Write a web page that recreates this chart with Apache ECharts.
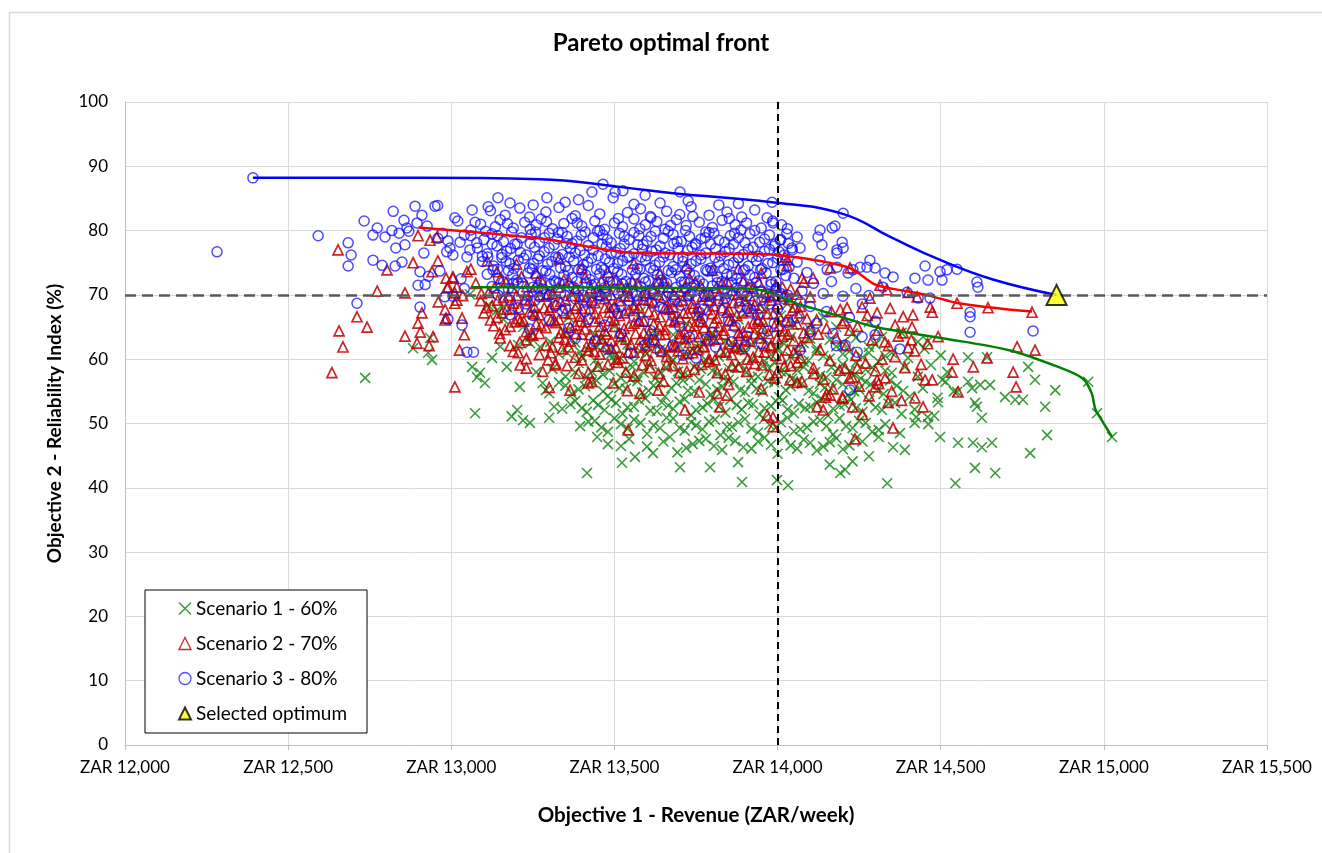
<!DOCTYPE html>
<html><head><meta charset="utf-8">
<script src="https://cdn.jsdelivr.net/npm/echarts@6/dist/echarts.min.js"></script>
<style>html,body{margin:0;padding:0;background:#fff}#c{width:1322px;height:853px}</style>
</head><body><div id="c"></div>
<script>
const chartTitle = 'Pareto optimal front';
const xAxisName = 'Objective 1 - Revenue (ZAR/week)';
const yAxisName = 'Objective 2 - Reliability Index (%)';
const seriesNames = ['Scenario 1 - 60%', 'Scenario 2 - 70%', 'Scenario 3 - 80%', 'Selected optimum'];
const xMin = 12000, xMax = 15500, xStep = 500;
const yMin = 0, yMax = 100, yStep = 10;
const refRevenue = 14000, refReliability = 70;

// Scenario 3 - 80% (blue circles)
const scenario3 = [
[12392,88.2],[12282,76.7],[12592,79.2],[12684,78.1],[12693,76.2],[12684,74.5],[12733,81.5],[12711,68.7],[12760,79.3],[12773,80.4],[12797,79.0],[12822,83.0],[12818,80.0],[12760,75.4],[12788,74.6],[12828,74.5],[12849,75.1],[12830,77.3],[12858,77.8],[12855,81.6],[12864,80.4],[12889,83.8],[12910,82.4],[12895,81.2],[12950,83.8],[12958,83.9],[12904,73.6],[12916,76.5],[12898,71.5],[12920,71.6],[12904,68.1],[12959,78.8],[12986,76.7],[12996,77.3],[13011,82.0],[13020,81.5],[12980,69.7],[13005,69.8],[13033,65.3],[13048,61.1],[13064,83.2],[13073,81.3],[13027,78.2],[13057,77.0],[13048,75.9],[13005,76.2],[12870,79.9],[12840,79.6],[12926,80.7],[12973,79.6],[12990,78.4],[13040,79.3],[13060,80.1],[12930,72.9],[12965,73.7],[13030,72.5],[13040,71.0],[12990,66.2],
[13113,83.7],[13143,85.1],[13180,84.3],[13251,84.0],[13293,85.1],[13349,84.4],[13431,86.0],[13465,87.2],[13496,85.1],[13502,86.0],[13526,86.2],[13594,85.5],[13701,86.0],[13726,84.6],[13560,84.1],[13640,84.3],[13820,84.0],[13983,84.4],[13390,84.8],[13880,84.2],
[13120,83.1],[13165,82.4],[13210,83.5],[13240,82.1],[13290,82.9],[13330,83.6],[13380,82.3],[13420,83.9],[13455,82.6],[13540,82.8],[13580,83.4],[13610,82.2],[13660,83.0],[13700,82.5],[13735,83.7],[13790,82.4],[13845,82.9],[13890,82.1],[13930,83.2],
[13090,81.0],[13135,80.6],[13150,81.7],[13190,80.4],[13225,81.3],[13260,80.9],[13275,81.8],[13310,80.3],[13345,81.1],[13370,81.9],[13400,80.7],[13440,81.5],[13470,80.2],[13500,81.2],[13525,80.6],[13560,81.8],[13595,80.9],[13630,81.4],[13655,80.2],[13690,81.7],[13720,80.8],[13760,81.3],[13800,80.5],[13830,81.6],[13870,80.9],[13905,81.2],[13950,80.4],[13985,81.5],[14030,80.3],
[13060,79.2],[13100,78.6],[13125,79.5],[13160,78.3],[13185,79.8],[13215,78.9],[13245,79.4],[13270,78.2],[13300,79.6],[13325,78.7],[13355,79.1],[13385,78.4],[13410,79.8],[13435,78.9],[13465,79.3],[13490,78.1],[13515,79.6],[13545,78.6],[13575,79.2],[13600,78.4],[13625,79.9],[13650,78.8],[13680,79.4],[13705,78.3],[13730,79.1],[13765,78.7],[13790,79.7],[13820,78.5],[13855,79.2],[13880,78.9],[13915,79.5],[13945,78.2],[13975,79.3],[14010,78.6],[14060,79.0],
[13080,77.3],[13110,76.4],[13140,77.6],[13170,76.8],[13195,77.9],[13230,76.2],[13255,77.4],[13285,76.7],[13315,77.8],[13340,76.3],[13365,77.2],[13395,76.9],[13420,77.7],[13450,76.1],[13475,77.5],[13505,76.6],[13530,77.9],[13560,76.4],[13585,77.1],[13615,76.8],[13640,77.6],[13670,76.2],[13695,77.3],[13725,76.9],[13750,77.8],[13780,76.5],[13810,77.2],[13840,76.7],[13865,77.9],[13895,76.3],[13925,77.4],[13960,76.8],[13990,77.6],[14020,76.2],[14045,77.0],
[13095,75.2],[13130,74.5],[13155,75.8],[13180,74.9],[13205,75.4],[13240,74.2],[13265,75.6],[13295,74.8],[13320,75.9],[13350,74.4],[13375,75.3],[13405,74.7],[13430,75.7],[13460,74.3],[13485,75.1],[13510,74.9],[13540,75.8],[13570,74.1],[13595,75.4],[13625,74.6],[13650,75.9],[13680,74.4],[13710,75.2],[13735,74.8],[13765,75.6],[13795,74.2],[13820,75.1],[13850,74.7],[13880,75.8],[13910,74.5],[13935,75.3],[13970,74.9],[14000,75.7],[14035,74.3],
[13110,73.2],[13145,72.6],[13175,73.8],[13200,72.3],[13235,73.4],[13260,72.9],[13290,73.7],[13315,72.2],[13345,73.1],[13370,72.7],[13400,73.9],[13425,72.4],[13455,73.3],[13480,72.8],[13510,73.6],[13535,72.1],[13565,73.2],[13590,72.6],[13620,73.8],[13645,72.3],[13675,73.5],[13700,72.9],[13730,73.4],[13760,72.2],[13785,73.7],[13815,72.8],[13845,73.2],[13875,72.5],[13900,73.9],[13930,72.7],[13965,73.4],[13995,72.1],[14025,73.0],
[13125,71.3],[13160,70.6],[13190,71.8],[13220,70.4],[13250,71.2],[13280,70.9],[13305,71.6],[13335,70.3],[13360,71.4],[13390,70.7],[13415,71.9],[13445,70.5],[13470,71.1],[13500,70.8],[13525,71.7],[13555,70.2],[13580,71.3],[13610,70.6],[13635,71.8],[13665,70.4],[13690,71.2],[13720,70.9],[13745,71.5],[13775,70.1],[13800,71.4],[13830,70.7],[13860,71.9],[13890,70.3],[13920,71.1],[13950,70.6],[13980,71.6],[14010,70.2],
[13180,69.2],[13230,68.6],[13270,69.7],[13320,68.3],[13380,69.4],[13430,68.8],[13475,69.6],[13520,68.2],[13570,69.1],[13615,68.7],[13660,69.8],[13705,68.4],[13750,69.3],[13795,68.9],[13840,69.5],[13885,68.1],[13930,69.0],[13975,68.6],[14020,69.4],
[13250,66.8],[13340,67.5],[13420,66.2],[13510,67.1],[13590,65.9],[13680,66.7],[13760,67.3],[13850,66.0],[13920,67.2],[13990,65.6],
[13068,61.1],[13440,62.8],[13593,62.2],[13620,63.0],[13680,62.2],[13710,60.6],[13750,60.2],[13810,61.9],[13860,62.7],[13900,61.9],[14100,64.3],[14180,62.1],
[13300,66.1],[13360,64.8],[13410,67.4],[13470,65.3],[13520,63.9],[13560,66.6],[13610,64.5],[13650,67.9],[13700,65.1],[13730,63.4],[13770,66.3],[13800,64.2],[13830,67.6],[13870,65.0],[13905,63.6],[13940,66.9],[13970,64.4],[14000,67.8],[14030,65.7],[13480,61.5],[13550,60.9],[13640,61.3],[13780,63.1],[13950,62.4],[13380,63.2],[13240,64.7],[13180,66.9],[14060,66.4],[14120,65.6],[14170,64.0],
[14201,82.7],[14130,80.1],[14167,80.4],[14176,80.7],[14124,79.0],[14136,77.8],[14198,78.2],[14201,77.3],[14182,77.0],[14069,77.3],[14044,77.3],[14008,78.5],[13986,81.2],[14182,76.5],[14283,75.4],[14253,74.3],[14299,74.2],[14329,73.4],[14354,72.8],[14323,71.2],[14274,74.3],[14231,73.9],[14216,73.4],[14182,74.3],[14130,75.4],[14152,73.9],[14452,74.5],[14498,73.6],[14519,73.9],[14550,74.0],[14421,72.6],[14461,72.3],[14504,72.3],[14611,72.0],[14614,71.2],[14590,67.3],[14590,66.6],[14590,64.2],[14783,64.4],[14397,70.4],[14431,69.5],[14467,69.5],
[14060,75.1],[14090,73.5],[14110,71.8],[14075,70.6],[14140,70.2],[14165,72.1],[14200,69.8],[14240,71.0],[14260,68.6],[14100,68.2],[14150,67.4],[14220,66.5],[14280,69.9],[14300,65.9],[14050,72.6],[14070,68.9],
[14375,61.6],[14207,62.2],[14244,61.1],[14222,55.2],[14299,63.8],[14259,63.5],[14069,61.4],
[13105,79.9],[13172,81.1],[13242,80.2],[13292,81.4],[13328,79.7],[13386,81.2],[13455,80.0],[13512,81.9],[13578,80.3],[13612,82.0],[13672,80.8],[13740,82.2],[13780,79.8],[13852,81.9],[13888,80.1],[13968,82.0],[14012,80.9],
[13078,78.1],[13142,79.2],[13202,77.9],[13258,79.8],[13286,78.9],[13340,79.7],[13370,78.0],[13398,79.3],[13448,79.9],[13478,78.6],[13530,79.1],[13560,79.7],[13588,77.8],[13612,79.1],[13665,79.9],[13692,78.3],[13718,80.0],[13748,78.0],[13778,78.9],[13805,79.6],[13838,78.2],[13868,79.6],[13900,78.1],[13930,80.0],[13960,78.7],[13992,77.9],[14028,79.5],
[13095,76.0],[13125,77.9],[13155,76.3],[13182,77.2],[13212,76.6],[13242,78.0],[13270,76.1],[13300,77.3],[13328,75.8],[13352,78.0],[13380,76.5],[13408,76.2],[13435,77.0],[13462,77.9],[13490,76.4],[13518,77.2],[13545,76.0],[13572,77.8],[13600,76.1],[13628,77.0],[13655,76.5],[13682,78.0],[13710,75.9],[13738,77.4],[13765,76.2],[13795,77.9],[13825,76.1],[13852,77.2],[13880,75.8],[13910,77.1],[13942,76.0],[13975,77.1],[14005,76.7],[14033,78.0],
[13112,75.9],[13142,74.0],[13168,75.2],[13192,74.1],[13222,75.7],[13252,74.9],[13280,73.8],[13308,75.2],[13335,74.2],[13362,75.9],[13390,73.9],[13418,75.1],[13445,74.0],[13472,75.6],[13498,74.1],[13525,75.3],[13555,73.9],[13582,75.9],[13610,74.2],[13638,75.1],[13665,73.8],[13695,75.7],[13722,74.0],[13750,75.3],[13780,73.9],[13808,75.8],[13835,74.1],[13865,75.0],[13895,73.8],[13922,75.9],[13952,74.1],[13985,75.0],[14018,74.0],
[13128,73.9],[13160,72.0],[13188,73.1],[13218,71.8],[13248,74.0],[13275,72.1],[13302,73.2],[13330,71.9],[13358,73.8],[13385,72.1],[13412,73.1],[13440,71.7],[13468,73.9],[13495,72.0],[13522,73.2],[13550,71.8],[13578,74.0],[13605,72.2],[13632,73.1],[13660,71.8],[13688,73.9],[13715,72.0],[13745,73.0],[13772,71.7],[13800,73.8],[13830,72.1],[13860,73.0],[13888,71.9],[13915,73.1],[13948,73.9],[13980,72.0],[14010,73.9],
[13142,70.0],[13175,71.0],[13205,71.9],[13235,69.8],[13265,71.1],[13292,70.1],[13320,72.0],[13348,69.9],[13375,71.2],[13402,70.0],[13430,71.5],[13458,69.8],[13485,72.0],[13512,70.2],[13540,71.0],[13568,69.9],[13595,72.0],[13622,70.1],[13650,71.2],[13678,69.8],[13705,72.0],[13732,70.1],[13760,71.0],[13788,69.9],[13815,71.9],[13845,70.2],[13875,71.1],[13905,69.8],[13935,71.9],[13965,70.1],[13995,71.0],[14030,70.0],
[13205,68.0],[13255,69.1],[13300,69.9],[13350,67.9],[13405,69.2],[13455,70.0],[13500,67.8],[13545,69.1],[13592,69.9],[13640,68.1],[13685,69.2],[13728,69.9],[13772,67.8],[13818,69.1],[13862,70.0],[13908,67.9],[13952,69.2],[13998,69.9]
];

// Scenario 2 - 70% (red triangles)
const scenario2 = [
[12653,77.0],[12803,73.9],[12773,70.6],[12858,70.3],[12883,75.0],[12941,73.6],[12959,75.3],[12898,79.2],[12935,78.5],[12956,79.0],[12711,66.6],[12742,65.0],[12656,64.4],[12668,61.9],[12858,63.6],[12895,62.5],[12898,65.6],[12910,67.2],[12944,63.5],[12981,67.7],[12981,66.1],[13005,72.8],[13011,70.3],[13017,69.2],[13011,68.7],[12990,71.2],[12634,57.9],[13011,55.7],[12984,72.6],[13005,72.6],[12987,71.1],[13017,71.2],[12984,66.4],[12932,62.1],[13033,66.4],[13048,73.6],[12905,64.2],[12960,68.9],[13035,69.9],[13040,63.8],[13025,61.4],
[13060,74.0],[13110,75.3],[13140,73.6],[13200,74.8],[13260,73.4],[13330,75.6],[13400,74.2],[13480,73.5],[13560,74.9],[13640,73.3],[13720,74.5],[13800,73.8],[13880,74.1],[13950,73.4],[14030,75.5],
[13075,71.8],[13115,70.4],[13150,72.5],[13185,71.1],[13215,72.8],[13250,70.6],[13280,71.9],[13310,70.2],[13345,72.3],[13380,71.0],[13410,72.7],[13445,70.5],[13475,71.6],[13505,72.4],[13540,70.8],[13570,71.7],[13600,70.3],[13635,72.1],[13665,71.2],[13700,70.6],[13730,72.6],[13765,71.4],[13795,70.1],[13830,71.8],[13860,70.7],[13895,72.2],[13925,71.0],[13960,70.4],[13995,71.5],[14040,70.9],[14080,72.0],
[13090,69.1],[13125,68.3],[13160,69.6],[13190,68.7],[13225,69.3],[13255,68.1],[13290,69.8],[13320,68.6],[13350,69.2],[13385,68.4],[13415,69.7],[13440,68.8],[13470,69.4],[13500,68.2],[13530,69.9],[13560,68.5],[13590,69.3],[13620,68.9],[13650,69.6],[13680,68.1],[13710,69.2],[13740,68.7],[13770,69.8],[13805,68.3],[13835,69.4],[13865,68.8],[13900,69.1],[13930,68.4],[13965,69.7],[14000,68.6],[14035,69.3],[14070,68.2],
[13100,67.2],[13140,66.5],[13170,67.8],[13205,66.3],[13240,67.4],[13270,66.9],[13300,67.7],[13330,66.2],[13365,67.1],[13395,66.7],[13425,67.9],[13455,66.4],[13485,67.3],[13515,66.8],[13545,67.6],[13575,66.1],[13605,67.4],[13640,66.6],[13670,67.8],[13700,66.3],[13725,67.2],[13755,66.9],[13785,67.7],[13815,66.4],[13845,67.3],[13875,66.8],[13910,67.5],[13940,66.2],[13970,67.1],[14005,66.7],[14045,67.6],[14090,66.3],
[13130,65.2],[13165,64.6],[13195,65.8],[13230,64.3],[13260,65.5],[13290,64.9],[13320,65.7],[13350,64.2],[13380,65.3],[13410,64.7],[13440,65.9],[13470,64.4],[13500,65.1],[13530,64.8],[13560,65.6],[13590,64.1],[13620,65.4],[13655,64.6],[13685,65.8],[13715,64.3],[13745,65.2],[13775,64.9],[13805,65.7],[13835,64.5],[13865,65.3],[13895,64.2],[13925,65.6],[13955,64.8],[13990,65.1],[14020,64.4],[14060,65.5],[14100,64.7],
[13150,63.3],[13210,62.6],[13250,63.7],[13290,62.2],[13330,63.4],[13365,62.8],[13400,63.9],[13430,62.4],[13460,63.2],[13490,62.9],[13520,63.6],[13550,62.3],[13580,63.1],[13610,62.7],[13640,63.8],[13670,62.1],[13700,63.4],[13730,62.6],[13760,63.5],[13790,62.9],[13820,63.2],[13850,62.4],[13885,63.7],[13915,62.8],[13945,63.3],[13980,62.2],[14015,63.6],[14050,62.9],[14090,63.4],
[13190,61.2],[13270,60.7],[13340,61.6],[13380,60.3],[13420,61.4],[13455,60.8],[13490,61.7],[13525,60.2],[13560,61.1],[13595,60.6],[13630,61.8],[13660,60.4],[13695,61.3],[13725,60.9],[13755,61.5],[13790,60.1],[13825,61.2],[13860,60.7],[13890,61.6],[13925,60.3],[13960,61.1],[13995,60.6],[14030,61.4],[14070,60.2],
[13230,58.6],[13320,59.3],[13390,57.8],[13450,58.9],[13510,59.5],[13560,57.4],[13610,58.7],[13660,59.2],[13700,57.9],[13745,58.4],[13790,59.6],[13840,57.7],[13880,58.8],[13930,59.3],[13975,57.6],[14020,58.9],[14060,59.5],[14110,57.8],
[13300,55.6],[13420,56.3],[13540,55.1],[13650,56.6],[13760,54.9],[13850,56.1],[13950,55.4],[14060,56.4],[14150,54.6],
[13542,49.0],[13716,52.1],[13968,51.3],[13986,51.0],[13986,49.5],[13364,55.2],[13297,59.9],[13318,59.1],[13205,61.0],[13211,59.1],[13431,56.5],[13496,56.3],[13578,54.7],[13634,55.2],[13815,54.7],[13845,54.4],[13824,52.6],
[14550,68.7],[14645,68.0],[14780,67.3],[14734,61.9],[14789,61.4],[14474,67.3],[14468,68.1],[14492,63.5],[14415,66.9],[14385,66.6],[14360,65.3],[14428,69.7],[14400,70.4],[14314,71.5],[14335,70.8],[14222,74.2],[14259,68.1],[14283,69.5],[14192,67.7],[14213,68.0],[14109,72.6],[14161,74.2],[14075,72.6],[14023,75.9],[14029,74.6],[14100,69.7],[14198,65.6],[14222,64.5],[14308,64.5],[14329,62.7],[14412,65.0],[14385,64.1],
[14354,49.3],[14237,47.6],[14446,52.6],[14421,54.0],[14339,53.3],[14535,58.0],[14553,54.9],[14600,58.8],[14642,60.2],[14722,58.0],[14731,55.7],[14538,60.0],[14474,56.8],[14452,56.8],
[14120,66.1],[14150,64.8],[14180,63.3],[14210,62.1],[14240,60.6],[14270,59.4],[14300,58.2],[14330,57.1],[14360,60.4],[14390,58.7],[14420,61.3],[14440,59.2],[14460,62.4],[14130,61.5],[14160,59.8],[14190,58.3],[14220,57.0],[14250,55.8],[14280,54.3],[14310,56.2],[14340,62.1],[14370,63.6],[14400,61.8],[14430,57.6],[14110,58.6],[14140,56.9],[14170,55.4],[14200,53.9],[14230,52.6],[14260,51.4],[14290,63.0],[14320,60.0],[14350,55.0],[14380,53.6],[14410,63.0],[14125,63.9],[14165,67.4],[14205,66.0],[14245,65.1],[14275,66.8],[14305,67.2],[14345,67.9],
[14146,54.1],[14161,54.4],[14198,54.1],[14121,52.6],[14140,52.1],[14305,56.8],[14299,55.7],[13992,57.1],[14038,56.8],[14075,56.5],[14207,58.6],[14244,58.6],[14228,57.2],
[13092,70.2],[13132,71.1],[13168,72.0],[13200,69.9],[13232,71.3],[13265,72.1],[13295,70.1],[13328,71.2],[13362,72.0],[13395,69.8],[13428,71.1],[13460,72.2],[13490,70.0],[13522,71.3],[13555,72.1],[13585,69.9],[13618,71.0],[13650,72.2],[13682,70.1],[13715,71.2],[13748,72.0],[13780,69.8],[13812,71.1],[13845,72.1],[13878,70.1],[13910,71.3],[13942,72.0],[13978,69.9],[14015,71.2],[14060,70.1],
[13108,68.0],[13142,69.2],[13175,69.9],[13208,67.8],[13240,69.1],[13272,70.0],[13305,68.1],[13335,69.0],[13368,69.9],[13400,67.9],[13430,69.2],[13455,70.0],[13485,68.1],[13515,69.1],[13545,69.8],[13575,68.0],[13605,69.2],[13635,70.0],[13665,67.9],[13695,69.0],[13725,69.9],[13755,68.1],[13788,69.2],[13820,70.0],[13850,67.8],[13882,69.1],[13915,69.9],[13948,68.0],[13982,69.2],[14018,69.8],[14052,68.1],
[13120,66.1],[13155,67.2],[13188,67.9],[13222,65.9],[13255,67.1],[13285,68.0],[13315,66.0],[13348,67.2],[13380,67.9],[13410,65.8],[13440,67.1],[13470,68.0],[13500,66.1],[13530,67.2],[13560,67.9],[13590,65.9],[13622,67.0],[13655,68.0],[13685,66.1],[13712,67.2],[13740,67.9],[13770,65.8],[13800,67.1],[13830,68.0],[13860,66.0],[13892,67.2],[13925,67.9],[13955,65.9],[13988,67.1],[14025,66.0],[14068,67.2],
[13148,64.0],[13180,65.1],[13212,66.0],[13245,63.9],[13275,65.2],[13305,66.0],[13335,64.1],[13365,65.0],[13395,65.9],[13425,63.8],[13455,65.1],[13485,66.0],[13515,64.1],[13545,65.2],[13575,65.9],[13605,63.9],[13638,65.1],[13670,66.0],[13700,64.0],[13730,65.2],[13760,65.9],[13790,63.8],[13820,65.1],[13850,66.0],[13880,64.1],[13910,65.0],[13940,65.9],[13972,64.0],[14005,65.2],[14040,66.0],[14080,64.1],
[13180,62.1],[13230,63.0],[13270,64.0],[13310,61.9],[13348,63.1],[13382,64.0],[13415,62.0],[13445,63.2],[13475,63.9],[13505,61.8],[13535,63.1],[13565,64.0],[13595,62.1],[13625,63.0],[13655,63.9],[13685,61.9],[13715,63.2],[13745,64.0],[13775,62.0],[13805,63.1],[13835,63.9],[13868,61.8],[13900,63.0],[13930,64.0],[13962,62.1],[13998,63.2],[14032,63.9],[14070,62.0],
[13230,60.1],[13305,61.0],[13360,61.9],[13400,59.9],[13438,61.2],[13472,62.0],[13508,60.0],[13542,61.1],[13578,61.9],[13612,59.8],[13645,61.2],[13678,62.0],[13710,60.1],[13740,61.0],[13772,61.9],[13808,59.9],[13842,61.1],[13875,62.0],[13908,60.0],[13942,61.2],[13978,61.9],[14012,60.1],[14050,61.0],
[13280,58.1],[13355,59.0],[13420,57.9],[13480,59.2],[13535,58.0],[13585,59.1],[13635,57.8],[13680,59.0],[13722,58.1],[13768,59.2],[13815,57.9],[13860,59.0],[13905,58.1],[13952,59.1],[13998,57.9],[14040,59.0]
];

// Scenario 1 - 60% (green crosses)
const scenario1 = [
[12736,57.1],[12883,61.7],[12935,63.3],[12929,61.0],[12941,59.9],[13064,58.8],[13079,57.2],[13073,51.6],[13088,57.9],[13103,56.3],[13125,60.2],[13150,62.0],[13202,52.1],[13220,50.5],[13241,50.1],[13185,51.1],[13170,58.8],[13210,55.7],[13260,58.0],[13280,56.3],[13300,54.7],[13315,52.6],[13300,50.9],
[13057,70.1],[13113,68.4],[13140,67.6],[13220,65.0],[13205,62.2],[13241,63.5],[13159,68.1],[13241,62.5],[13272,61.9],[13303,62.7],[13355,61.0],[13395,61.1],[13447,61.9],[13487,60.7],
[13160,66.2],[13250,67.0],[13360,66.5],[13580,67.4],[13760,66.7],
[13350,64.2],[13500,65.1],[13620,64.4],[13720,65.6],[13800,64.1],[13880,66.2],[13950,64.9],[14010,66.8],[14050,65.3],[14100,64.6],[14140,66.5],[14180,65.0],[14230,64.0],[14280,65.8],[14320,63.5],[14380,64.1],[14430,62.7],[14460,62.8],[13960,67.7],[14030,68.6],[13900,69.2],[13990,70.2],
[13330,60.8],[13380,62.6],[13420,61.4],[13460,63.1],[13500,60.6],[13540,62.3],[13580,61.2],[13620,63.5],[13660,60.9],[13700,62.1],[13740,61.5],[13780,63.3],[13820,60.4],[13860,62.6],[13900,61.3],[13940,63.6],[13980,60.7],[14020,62.4],[14060,61.1],[14100,63.2],[14140,60.5],[14180,62.0],[14220,61.2],[14260,60.3],[14300,62.3],[14350,61.0],[14400,60.2],[14450,61.6],[14500,60.6],
[13310,58.5],[13350,57.3],[13390,59.4],[13430,58.1],[13465,57.6],[13500,59.7],[13535,58.4],[13570,57.2],[13605,59.1],[13640,58.0],[13675,59.6],[13710,57.5],[13745,58.8],[13780,59.9],[13815,57.8],[13850,58.6],[13885,59.3],[13920,57.1],[13955,58.9],[13990,59.5],[14025,57.9],[14060,58.3],[14095,59.8],[14130,57.4],[14165,58.7],[14200,59.2],[14235,57.6],[14270,58.4],[14310,59.6],[14350,57.9],[14390,58.8],[14430,57.3],[14470,59.1],[14520,58.0],
[13290,55.2],[13330,56.4],[13370,54.6],[13410,55.8],[13445,56.7],[13480,54.3],[13515,55.5],[13550,56.9],[13585,54.8],[13620,55.9],[13655,54.2],[13690,56.3],[13725,55.1],[13760,56.8],[13795,54.5],[13830,55.7],[13865,56.5],[13900,54.9],[13935,55.4],[13970,56.6],[14005,54.1],[14040,55.8],[14075,56.2],[14110,54.7],[14145,55.6],[14180,56.8],[14215,54.4],[14250,55.3],[14285,56.1],[14325,54.6],[14365,55.9],[14405,54.2],[14445,55.5],[14490,54.0],[14540,55.0],
[13340,52.3],[13380,53.5],[13415,51.8],[13450,52.9],[13490,53.7],[13525,51.5],[13560,52.6],[13595,53.9],[13630,51.9],[13665,52.8],[13700,53.4],[13735,51.3],[13770,52.5],[13805,53.8],[13840,51.7],[13875,52.9],[13910,53.2],[13945,51.4],[13980,52.7],[14015,53.6],[14050,51.6],[14085,52.4],[14120,53.3],[14155,51.2],[14190,52.8],[14225,53.7],[14260,51.8],[14300,52.5],[14340,53.1],[14380,51.5],[14420,52.2],[14460,51.0],
[13395,49.6],[13440,50.4],[13480,48.7],[13520,49.9],[13560,50.6],[13600,48.4],[13640,49.3],[13680,50.8],[13715,48.9],[13750,49.7],[13790,50.3],[13825,48.2],[13860,49.5],[13900,50.7],[13940,48.6],[13975,49.8],[14010,50.2],[14050,48.8],[14090,49.4],[14130,50.5],[14170,48.3],[14210,49.6],[14250,50.4],[14290,48.7],[14330,49.9],[14375,48.5],[14420,50.1],
[13447,47.9],[13520,46.5],[13563,44.8],[13618,45.4],[13650,47.2],[13693,45.5],[13740,46.8],[13780,47.6],[13830,45.9],[13870,47.3],[13920,46.1],[13960,47.8],[14000,45.3],[14040,46.6],[14080,47.5],[14120,45.8],[14160,47.1],[14200,46.0],[14240,47.7],[14280,44.9],[14354,46.3],[14390,45.9],[14310,47.9],
[13416,42.3],[13523,43.9],[13701,43.2],[13793,43.2],[13879,44.0],[13891,40.9],[13998,41.2],[14032,40.4],[14207,42.8],[14192,42.3],[14230,44.1],[14160,43.6],[14336,40.7],[14545,40.7],[14605,43.1],[14667,42.3],[14774,45.4],[14826,48.2],
[14979,51.6],[14952,56.5],[14851,55.2],[14820,52.6],[14789,56.8],[14768,58.8],[14752,53.7],[14728,53.7],[14697,54.1],[14651,56.0],[14621,56.0],[14596,55.5],[14584,56.5],[14584,60.3],[14642,60.3],[14605,53.2],[14611,52.6],[14626,50.9],[14599,47.0],[14626,46.3],[14657,47.0],[14553,47.0],[14498,47.9],[14505,56.8],[14515,56.5],[14550,54.9],[14492,53.3],[14480,51.2],[14462,49.9],[14425,51.0],[15025,47.9],
[13440,63.9],[13520,63.0],[13600,62.1],[13680,63.8],[13720,62.9],[13760,62.2],[13800,63.7],[13840,62.8],[13880,61.9],[13920,62.3],[13960,63.1],[14000,61.8],[14040,63.4],[14080,62.5],[14120,61.7],[14160,63.0],[14200,62.6],[14240,63.3],[14280,61.9],
[13400,60.4],[13440,59.8],[13480,61.2],[13520,60.1],[13560,59.6],[13600,60.9],[13640,61.5],[13680,59.9],[13720,60.7],[13760,61.6],[13800,59.5],[13840,60.8],[13880,61.7],[13920,60.0],[13960,59.7],[14000,61.4],[14040,60.3],[14080,59.6],[14120,61.3],[14160,60.1],[14200,60.8],[14240,59.5],[14280,61.0],[14330,60.5],
[13380,58.0],[13415,57.2],[13450,58.9],[13485,58.2],[13520,57.1],[13555,58.8],[13590,57.9],[13625,57.0],[13660,58.6],[13695,58.1],[13730,57.2],[13765,58.5],[13800,58.2],[13835,57.0],[13870,58.7],[13905,58.0],[13940,57.3],[13975,58.6],[14010,58.1],[14045,57.0],[14080,58.8],[14115,58.0],[14150,57.2],[14185,58.5],[14220,58.1],[14255,57.0],[14290,58.7],[14330,58.2],
[13350,55.9],[13390,55.3],[13430,56.5],[13465,55.0],[13500,56.2],[13535,55.4],[13570,56.6],[13605,55.1],[13640,56.3],[13675,55.5],[13710,56.7],[13745,55.0],[13780,56.1],[13815,55.3],[13850,56.8],[13885,55.2],[13920,56.2],[13955,55.0],[13990,56.4],[14025,55.2],[14060,56.6],[14095,55.1],[14130,56.2],[14165,55.4],[14200,56.1],[14235,55.0],[14270,56.5],[14305,55.2],[14345,56.7],[14385,55.1],
[13365,53.0],[13400,52.4],[13435,53.6],[13470,52.1],[13505,53.2],[13540,52.5],[13575,53.7],[13610,52.0],[13645,53.3],[13680,52.3],[13715,53.8],[13750,52.1],[13785,53.1],[13820,52.6],[13855,53.7],[13890,52.2],[13925,53.0],[13960,52.4],[13995,53.5],[14030,52.2],[14065,53.1],[14100,52.6],[14135,53.8],[14170,52.3],[14205,53.0],[14240,52.4],[14280,53.6],[14320,52.1],[14360,53.2],
[13420,50.3],[13460,49.4],[13500,50.8],[13540,49.2],[13580,50.1],[13620,49.7],[13660,50.9],[13700,49.3],[13735,50.2],[13770,49.1],[13808,50.6],[13845,49.5],[13880,50.2],[13920,49.2],[13958,50.7],[13995,49.4],[14030,50.9],[14070,49.1],[14110,50.3],[14150,49.6],[14190,50.8],[14230,49.3],[14270,50.1],[14310,49.0],
[13480,46.8],[13545,47.6],[13600,46.4],[13670,47.9],[13720,46.2],[13760,47.3],[13805,46.5],[13850,47.8],[13895,46.3],[13940,47.2],[13980,46.7],[14020,47.9],[14060,46.1],[14100,47.0],[14140,46.4],[14180,47.7],[14220,46.6],[14260,47.2]
];

// Pareto fronts
const front1 = [[13060,71.2],[13300,71.2],[13600,71.1],[13900,71.0],[13970,70.5],[14050,68.8],[14110,67.9],[14200,66.5],[14300,65.0],[14500,63.3],[14710,61.4],[14860,58.8],[14935,57.0],[14962,54.8],[14974,52.2],[14990,50.8],[15025,47.9]];
const front2 = [[12900,80.5],[13270,78.8],[13575,76.5],[13920,76.4],[14050,75.9],[14220,74.2],[14300,71.6],[14380,70.7],[14455,70.0],[14555,68.7],[14660,68.0],[14780,67.4]];
const front3 = [[12392,88.2],[12900,88.2],[13270,88.0],[13515,86.8],[13680,85.8],[13983,84.4],[14200,82.6],[14350,78.9],[14500,75.4],[14660,72.4],[14855,70.0]];
const selectedOptimum = [[14855,70.0]];

const FONT = 'Lato, "Liberation Sans", sans-serif';
const CROSS = 'path://M0,0L10,10M10,0L0,10';
const GREEN = '#1a8a1a', RED = '#c00000', BLUE = '#1010ff';
const fmt = v => 'ZAR ' + String(v).replace(/\B(?=(\d{3})+(?!\d))/g, ',');

const chart = echarts.init(document.getElementById('c'));
chart.setOption({
  animation: false,
  backgroundColor: '#fff',
  graphic: [{type:'rect', left:7, top:10, shape:{width:1314, height:860}, style:{fill:'none', stroke:'#d9d9d9', lineWidth:1.5}, silent:true, z:-1}],
  title: {text: chartTitle, left: 'center', top: 26, textStyle: {fontFamily: FONT, fontSize: 24, fontWeight: 'bold', color: '#000'}},
  grid: {left: 125, right: 55, top: 102, bottom: 108},
  xAxis: {type: 'value', min: xMin, max: xMax, interval: xStep,
    name: xAxisName, nameLocation: 'middle', nameGap: 60,
    nameTextStyle: {fontFamily: FONT, fontSize: 20.5, fontWeight: 'bold', color: '#000'},
    axisLine: {show: true, lineStyle: {color: '#bfbfbf', width: 1}},
    axisTick: {show: true, length: 5, lineStyle: {color: '#bfbfbf'}},
    axisLabel: {formatter: fmt, margin: 14, fontFamily: FONT, fontSize: 17, color: '#000'},
    splitLine: {show: true, lineStyle: {color: '#d9d9d9', width: 1}}},
  yAxis: {type: 'value', min: yMin, max: yMax, interval: yStep,
    name: yAxisName, nameLocation: 'middle', nameGap: 61,
    nameTextStyle: {fontFamily: FONT, fontSize: 19, fontWeight: 'bold', color: '#000'},
    axisLine: {show: true, lineStyle: {color: '#bfbfbf', width: 1}},
    axisTick: {show: false},
    axisLabel: {margin: 17, fontFamily: FONT, fontSize: 17, color: '#000'},
    splitLine: {show: true, lineStyle: {color: '#d9d9d9', width: 1}}},
  legend: {
    left: 145, top: 590, orient: 'vertical', backgroundColor: '#fff',
    borderColor: '#000', borderWidth: 1, borderRadius: 0,
    padding: [9, 20, 10, 33], itemGap: 16, itemWidth: 12, itemHeight: 12,
    textStyle: {fontFamily: FONT, fontSize: 19, color: '#000'},
    data: [
      {name: seriesNames[0], icon: CROSS, itemStyle: {color: 'rgba(0,0,0,0)', borderColor: GREEN, borderWidth: 1.5}},
      {name: seriesNames[1], icon: 'triangle', itemStyle: {color: 'rgba(0,0,0,0)', borderColor: RED, borderWidth: 1.3}},
      {name: seriesNames[2], icon: 'circle', itemStyle: {color: 'rgba(0,0,0,0)', borderColor: BLUE, borderWidth: 1.3}},
      {name: seriesNames[3], icon: 'triangle', itemStyle: {color: '#ffff00', borderColor: '#000', borderWidth: 2}}
    ]
  },
  series: [
    {name: seriesNames[0], type: 'scatter', data: scenario1, symbol: CROSS, symbolSize: 10,
      itemStyle: {color: 'rgba(0,0,0,0)', borderColor: GREEN, borderWidth: 1.6, opacity: 0.85}},
    {name: seriesNames[1], type: 'scatter', data: scenario2, symbol: 'triangle', symbolSize: 10,
      itemStyle: {color: 'rgba(0,0,0,0)', borderColor: RED, borderWidth: 1.7, opacity: 0.85}},
    {name: seriesNames[2], type: 'scatter', data: scenario3, symbol: 'circle', symbolSize: 10,
      itemStyle: {color: 'rgba(0,0,0,0)', borderColor: BLUE, borderWidth: 1.5, opacity: 0.75}},
    {name: 'front1', type: 'line', data: front1, smooth: 0.3, showSymbol: false,
      lineStyle: {color: '#008000', width: 2.5}, z: 3},
    {name: 'front2', type: 'line', data: front2, smooth: 0.3, showSymbol: false,
      lineStyle: {color: '#ff0000', width: 2.5}, z: 3},
    {name: 'front3', type: 'line', data: front3, smooth: 0.45, showSymbol: false,
      lineStyle: {color: '#0000ff', width: 2.5}, z: 3},
    {name: seriesNames[3], type: 'scatter', data: selectedOptimum, symbol: 'triangle', symbolSize: 20, z: 5,
      itemStyle: {color: '#ffff00', borderColor: '#000', borderWidth: 2},
      markLine: {silent: true, symbol: ['none', 'none'], label: {show: false}, z: 4,
        data: [
          {xAxis: refRevenue, lineStyle: {color: '#000', width: 2, type: [7, 5]}},
          {yAxis: refReliability, lineStyle: {color: '#595959', width: 2.5, type: [11, 6]}}
        ]}}
  ]
});
</script></body></html>
